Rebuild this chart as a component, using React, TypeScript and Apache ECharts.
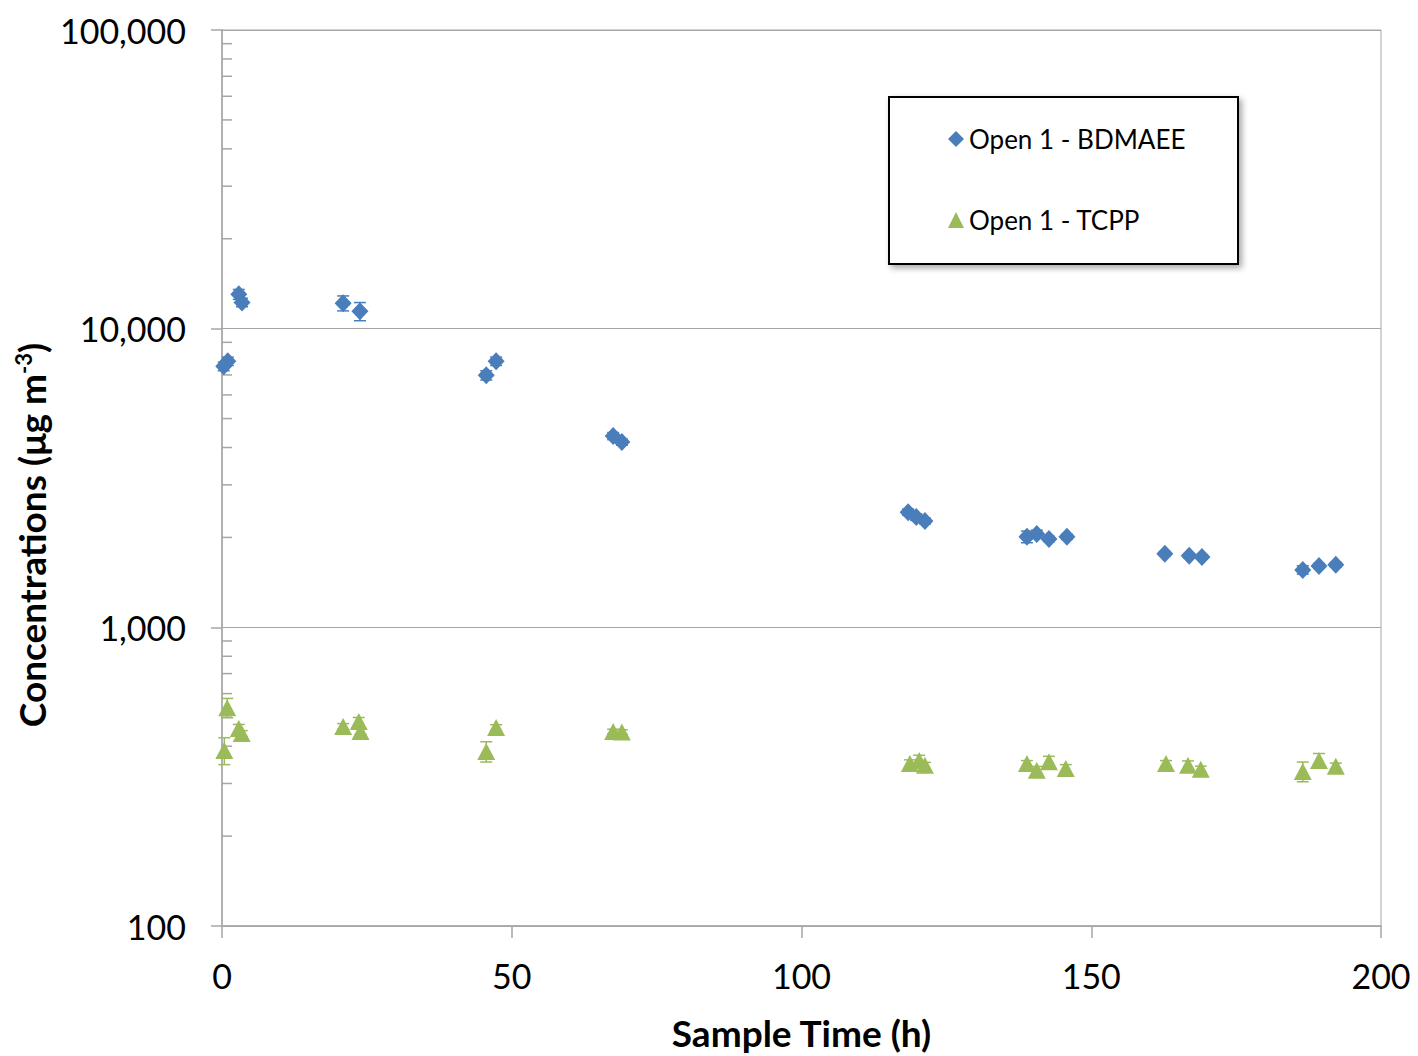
import React, { useEffect, useRef } from "react";
import * as echarts from "echarts";

// ---- Data ----
const bdmaeeTime = [0.3, 1.0, 2.9, 3.45, 20.9, 23.8, 45.6, 47.3, 67.5, 69.0, 118.4, 119.8, 121.3, 138.9, 140.6, 142.7, 145.8, 162.7, 166.9, 169.1, 186.5, 189.3, 192.2];
const bdmaeeConc = [7480, 7780, 13030, 12240, 12170, 11430, 6980, 7780, 4370, 4170, 2430, 2340, 2270, 2010, 2055, 1977, 2010, 1762, 1735, 1720, 1557, 1606, 1619];
const bdmaeeErr = [250, 250, 500, 400, 700, 800, 250, 250, 120, 100, 60, 60, 50, 90, 60, 40, 40, 30, 30, 30, 50, 30, 30];

const tcppTime = [0.9, 2.9, 3.4, 0.4, 20.9, 23.6, 23.9, 47.3, 45.6, 67.5, 69.0, 118.7, 120.3, 121.3, 138.9, 140.6, 142.7, 145.6, 162.9, 166.7, 168.9, 186.5, 189.3, 192.2];
const tcppConc = [538, 458, 441, 387, 466, 484, 448, 462, 384, 448, 446, 350, 358, 345, 350, 332, 355, 337, 350, 345, 335, 329, 358, 343];
const tcppErr = [40, 15, 10, 40, 10, 15, 10, 10, 30, 8, 8, 10, 15, 8, 8, 10, 15, 10, 8, 12, 8, 25, 20, 8];

const xTicks = { min: 0, max: 200, interval: 50 };
const yTicks = { min: 100, max: 100000 };

const BLUE = "#4a7ebb";
const GREEN = "#9bbb59";
const FONT = "Lato, 'Open Sans', 'Noto Sans', sans-serif";

function pairs(xs: number[], ys: number[]) {
  return xs.map((x, i) => [x, ys[i]]);
}
function errData(xs: number[], ys: number[], es: number[]) {
  return xs.map((x, i) => [x, ys[i], ys[i] - es[i], ys[i] + es[i]]);
}

function errorRender(color: string) {
  return (params: any, api: any) => {
    const x = api.value(0);
    const lo = api.coord([x, api.value(2)]);
    const hi = api.coord([x, api.value(3)]);
    const cap = 6;
    const style = { stroke: color, lineWidth: 1.5 };
    return {
      type: "group",
      children: [
        { type: "line", shape: { x1: lo[0], y1: lo[1], x2: hi[0], y2: hi[1] }, style },
        { type: "line", shape: { x1: lo[0] - cap, y1: lo[1], x2: lo[0] + cap, y2: lo[1] }, style },
        { type: "line", shape: { x1: hi[0] - cap, y1: hi[1], x2: hi[0] + cap, y2: hi[1] }, style },
      ],
    };
  };
}

// minor tick positions for the log axis (2..9 in each decade)
const minorTickValues: number[] = [];
for (let d = 100; d < 100000; d *= 10) {
  for (let k = 2; k <= 9; k++) minorTickValues.push(d * k);
}

export default function App() {
  const ref = useRef<HTMLDivElement>(null);

  useEffect(() => {
    document.body.style.margin = "0";
    if (!ref.current) return;
    const chart = echarts.init(ref.current, null, { renderer: "svg" });
    chart.setOption({
      animation: false,
      backgroundColor: "#ffffff",
      textStyle: { fontFamily: FONT },
      grid: {
        left: 222,
        right: 37,
        top: 30,
        bottom: 128,
        show: true,
        borderColor: "#a6a6a6",
        borderWidth: 1,
        backgroundColor: "transparent",
      },
      xAxis: {
        type: "value",
        min: xTicks.min,
        max: xTicks.max,
        interval: xTicks.interval,
        name: "Sample Time (h)",
        nameLocation: "middle",
        nameGap: 88,
        nameTextStyle: { fontSize: 37, fontWeight: "bold", color: "#000", fontFamily: FONT },
        axisLine: { show: true, lineStyle: { color: "#a6a6a6", width: 1.5 } },
        axisTick: { show: true, inside: false, length: 12, lineStyle: { color: "#a6a6a6", width: 1.5 } },
        axisLabel: { fontSize: 34, color: "#000", margin: 32, fontFamily: FONT },
        splitLine: { show: false },
      },
      yAxis: {
        type: "log",
        logBase: 10,
        min: yTicks.min,
        max: yTicks.max,
        axisLine: { show: true, lineStyle: { color: "#a6a6a6", width: 1.5 } },
        axisTick: { show: true, inside: false, length: 11, lineStyle: { color: "#a6a6a6", width: 1.5 } },
        axisLabel: {
          fontSize: 34,
          color: "#000",
          margin: 36,
          fontFamily: FONT,
          formatter: (v: number) => Math.round(v).toString().replace(/\B(?=(\d{3})+(?!\d))/g, ","),
        },
        splitLine: { show: true, lineStyle: { color: "#a6a6a6", width: 1 } },
      },
      legend: {
        orient: "vertical",
        left: 943,
        top: 121,
        itemGap: 55,
        itemWidth: 16,
        itemHeight: 16,
        z: 10,
        textStyle: { fontSize: 26, color: "#000", fontFamily: FONT },
        data: [
          { name: "Open 1 - BDMAEE", icon: "diamond" },
          { name: "Open 1 - TCPP", icon: "triangle" },
        ],
      },
      graphic: [
        {
          type: "rect",
          z: 5,
          shape: { x: 889, y: 97, width: 349, height: 167 },
          style: {
            fill: "#fff",
            stroke: "#000",
            lineWidth: 2,
            shadowBlur: 6,
            shadowOffsetX: 3,
            shadowOffsetY: 3,
            shadowColor: "rgba(0,0,0,0.35)",
          },
        },
        {
          type: "text",
          x: 31,
          y: 535,
          rotation: Math.PI / 2,
          style: {
            text: "Concentrations (μg m{sup|-3})",
            align: "center",
            verticalAlign: "middle",
            fontSize: 37,
            fontWeight: "bold",
            fontFamily: FONT,
            fill: "#000",
            rich: {
              sup: { fontSize: 22, fontWeight: "bold", fontFamily: FONT, verticalAlign: "top", padding: [0, 0, 16, 0] },
            },
          } as any,
        },
      ],
      series: [
        {
          type: "custom",
          name: "minorTicks",
          silent: true,
          z: 1,
          data: minorTickValues.map((v) => [0, v]),
          renderItem: (params: any, api: any) => {
            const p = api.coord([0, api.value(1)]);
            return {
              type: "line",
              shape: { x1: p[0], y1: p[1], x2: p[0] + 10, y2: p[1] },
              style: { stroke: "#a6a6a6", lineWidth: 1.5 },
            };
          },
          encode: { x: 0, y: 1 },
        },
        {
          type: "custom",
          name: "Open 1 - BDMAEE err",
          silent: true,
          z: 2,
          data: errData(bdmaeeTime, bdmaeeConc, bdmaeeErr),
          renderItem: errorRender(BLUE),
          encode: { x: 0, y: [1, 2, 3] },
        },
        {
          type: "custom",
          name: "Open 1 - TCPP err",
          silent: true,
          z: 2,
          data: errData(tcppTime, tcppConc, tcppErr),
          renderItem: errorRender(GREEN),
          encode: { x: 0, y: [1, 2, 3] },
        },
        {
          type: "scatter",
          name: "Open 1 - BDMAEE",
          symbol: "diamond",
          symbolSize: [17, 18],
          itemStyle: { color: BLUE, opacity: 1 },
          z: 3,
          data: pairs(bdmaeeTime, bdmaeeConc),
        },
        {
          type: "scatter",
          name: "Open 1 - TCPP",
          symbol: "triangle",
          symbolSize: [18, 17],
          itemStyle: { color: GREEN, opacity: 1 },
          z: 3,
          data: pairs(tcppTime, tcppConc),
        },
      ],
    });
    return () => chart.dispose();
  }, []);

  return <div ref={ref} style={{ width: 1418, height: 1056 }} />;
}
